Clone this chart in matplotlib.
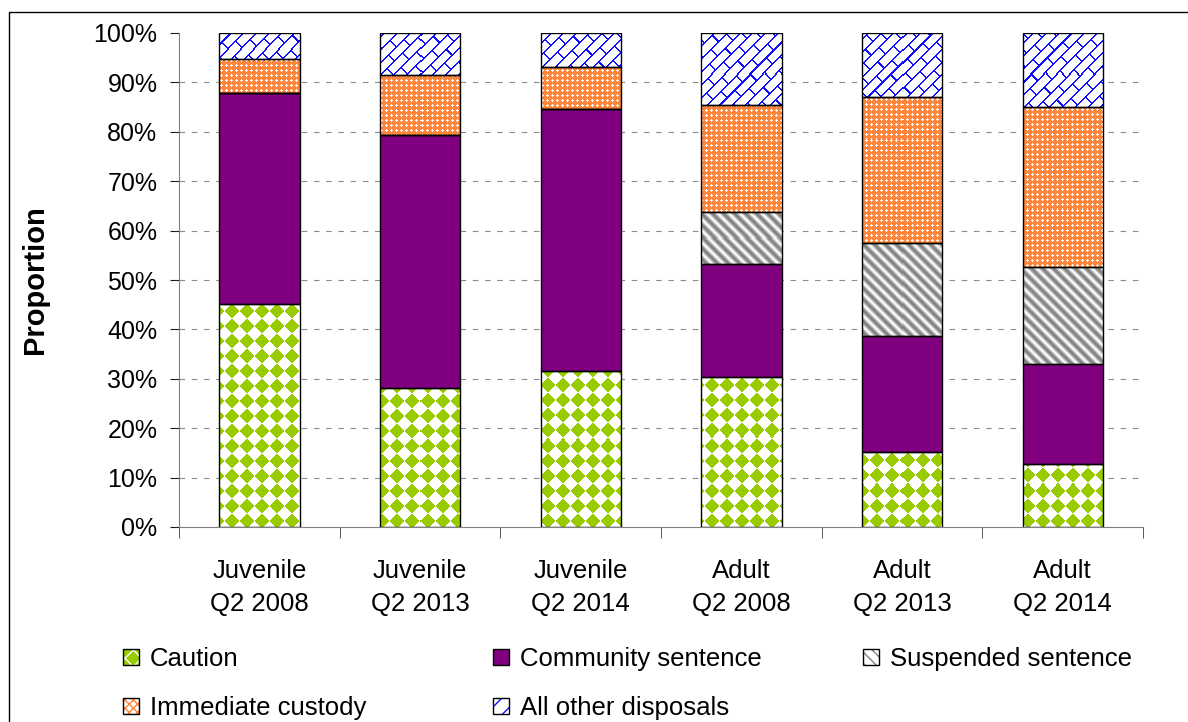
"""
Disposal mix for juvenile and adult offenders, stacked 100% bars.
"""
import numpy as np
import matplotlib
matplotlib.use("Agg")
import matplotlib.pyplot as plt
from matplotlib.patches import Patch, Rectangle
from matplotlib.legend_handler import HandlerTuple
from matplotlib.ticker import PercentFormatter

plt.rcParams['font.family'] = ['Liberation Sans', 'DejaVu Sans']

groups = ["Juvenile\nQ2 2008", "Juvenile\nQ2 2013", "Juvenile\nQ2 2014",
          "Adult\nQ2 2008", "Adult\nQ2 2013", "Adult\nQ2 2014"]
caution = [45.1, 28.1, 31.6, 30.4, 15.2, 12.8]
community = [42.8, 51.3, 53.1, 22.8, 23.5, 20.2]
suspended = [0.0, 0.0, 0.0, 10.6, 18.8, 19.6]
custody = [6.8, 12.1, 8.5, 21.6, 29.6, 32.4]
other = [5.3, 8.5, 6.8, 14.6, 12.9, 15.0]

GREEN = np.array([0x99, 0xCC, 0x00]) / 255
ORANGE = np.array([0xFF, 0x85, 0x3A]) / 255
GREY = np.array([0x80, 0x80, 0x80]) / 255
BLUE = np.array([0x10, 0x10, 0xFF]) / 255
PURPLE = '#800080'

W_PX, H_PX = 1188, 722
FS = 18.5


def texture(kind, h, w):
    """Excel-style fill pattern as an RGBA array, one cell per screen pixel."""
    r, c = np.mgrid[0:h, 0:w].astype(float)
    img = np.ones((h, w, 4))
    if kind == 'diamond':
        s = 15.0
        dx = np.abs((c % s) - s / 2)
        dy = np.abs((r % s) - s / 2)
        img[(dx + dy) < 0.47 * s, :3] = GREEN
    elif kind == 'stripe':
        t = 0.5 + 0.5 * np.cos(2 * np.pi * (c - r) / 11.0)
        t = t ** 0.8
        img[..., :3] = (1 - t[..., None]) + t[..., None] * GREY
    elif kind == 'dots':
        cm, rm = c % 5, r % 5
        white = ((cm == 2) & (rm >= 1) & (rm <= 3)) | ((rm == 2) & (cm >= 1) & (cm <= 3))
        img[..., :3] = ORANGE
        img[white, :3] = 1.0
    elif kind == 'brick':
        n = (c + r) / np.sqrt(2)
        t = (c - r) / np.sqrt(2)
        d, length, lw = 9.0, 22.0, 1.5
        k = np.floor(n / d)
        line = (n % d) < lw
        joint = ((t + (k % 2) * length / 2) % length) < lw
        img[line | joint, :3] = BLUE
    return img


fig = plt.figure(figsize=(W_PX / 100, H_PX / 100), dpi=100)
ax = fig.add_axes([179 / W_PX, 1 - 527 / H_PX, (1143 - 179) / W_PX, (527 - 33) / H_PX])

x = np.arange(len(groups))
width = 0.5
xlim = (-0.5, len(groups) - 0.5)
ylim = (0, 100)

pos = ax.get_position()
ax_w = int(round(pos.width * W_PX))
ax_h = int(round(pos.height * H_PX))

series = [
    (caution, 'diamond'),
    (community, None),
    (suspended, 'stripe'),
    (custody, 'dots'),
    (other, 'brick'),
]

bottom = np.zeros(len(groups))
for vals, kind in series:
    vals = np.asarray(vals)
    if kind is None:
        ax.bar(x, vals, width, bottom=bottom, color=PURPLE, linewidth=0, zorder=2)
    else:
        bars = ax.bar(x, vals, width, bottom=bottom, color='white', linewidth=0, zorder=2)
        tex = texture(kind, ax_h, ax_w)
        for b, v in zip(bars, vals):
            if v <= 0:
                continue
            im = ax.imshow(tex, extent=(*xlim, *ylim), aspect='auto',
                           interpolation='nearest', zorder=2.5)
            im.set_clip_path(b)
    ax.bar(x, vals, width, bottom=bottom, fill=False, edgecolor='black',
           linewidth=1.0, zorder=3)
    bottom += vals

ax.set_xlim(*xlim)
ax.set_ylim(*ylim)

# axes styling
for side in ('top', 'right'):
    ax.spines[side].set_visible(False)
ax.spines['left'].set_color('#808080')
ax.spines['bottom'].set_color('#808080')

ax.set_xticks(x)
ax.set_xticklabels(groups)
ax.set_xticks(np.arange(-0.5, len(groups), 1), minor=True)
ax.tick_params(axis='x', which='major', length=0, pad=23, labelsize=FS)
ax.tick_params(axis='x', which='minor', length=8, direction='out', color='#404040')
for lbl in ax.get_xticklabels():
    lbl.set_linespacing(1.5)

ax.set_yticks(np.arange(0, 101, 10))
ax.yaxis.set_major_formatter(PercentFormatter(100, decimals=0))
ax.tick_params(axis='y', length=6.5, pad=9, labelsize=18, color='#202020')

ax.yaxis.grid(True, linestyle=(0, (5, 6)), color='#8c8c8c', linewidth=0.8)
ax.set_axisbelow(True)
yt = ax.yaxis.get_major_ticks()
yt[0].gridline.set_visible(False)
yt[-1].gridline.set_visible(False)

ax.set_ylabel("Proportion", fontsize=21, fontweight='bold')
ax.yaxis.set_label_coords(-0.135, 0.5)

# legend, three fixed columns
outline = dict(fill=False, edgecolor='black', linewidth=1.0)
h_caution = (Patch(facecolor=GREEN, edgecolor='white', hatch='xx', linewidth=0), Patch(**outline))
h_community = (Patch(facecolor=PURPLE, linewidth=0), Patch(**outline))
h_suspended = (Patch(facecolor='white', edgecolor=GREY, hatch='\\\\\\', linewidth=0), Patch(**outline))
h_custody = (Patch(facecolor='white', edgecolor=ORANGE, hatch='xxxx', linewidth=0), Patch(**outline))
h_other = (Patch(facecolor='white', edgecolor=BLUE, hatch='//', linewidth=0), Patch(**outline))

columns = [
    (123, [h_caution, h_custody], ["Caution", "Immediate custody"]),
    (493, [h_community, h_other], ["Community sentence", "All other disposals"]),
    (863, [h_suspended], ["Suspended sentence"]),
]
for px, hs, labs in columns:
    fig.legend(hs, labs, loc='upper left', bbox_to_anchor=(px / W_PX, 1 - 647 / H_PX),
               frameon=False, borderpad=0, borderaxespad=0, fontsize=FS,
               handlelength=0.62, handleheight=0.62, handletextpad=0.42,
               labelspacing=0.97,
               handler_map={tuple: HandlerTuple(ndivide=1, pad=0)})

# chart area border
fig.add_artist(Rectangle((9 / W_PX, -0.1), 1.2, (H_PX - 12) / H_PX + 0.1,
                         transform=fig.transFigure, fill=False,
                         edgecolor='black', linewidth=1.0))

fig.savefig("out.png", dpi=100)
